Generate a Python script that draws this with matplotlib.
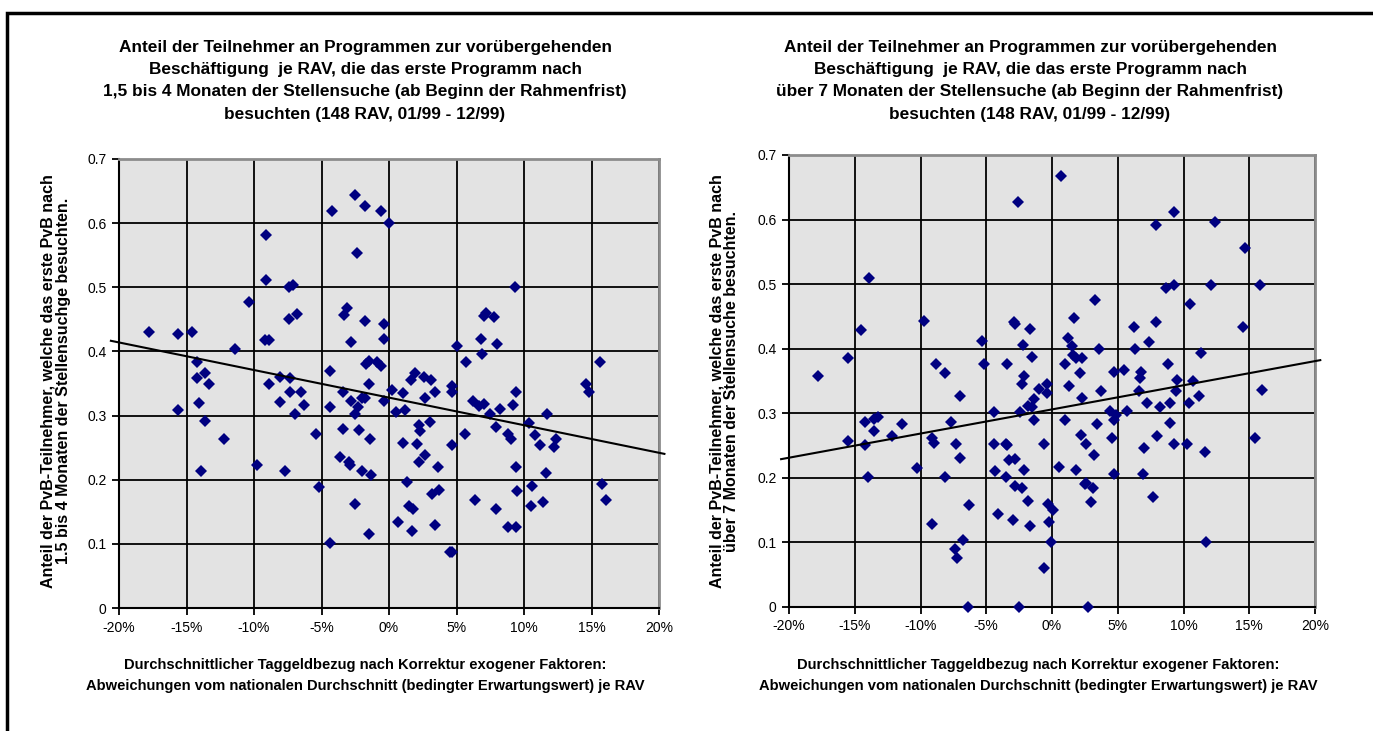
import numpy as np
import matplotlib
matplotlib.use("Agg")
import matplotlib.pyplot as plt
from matplotlib.ticker import PercentFormatter, FixedLocator
from matplotlib.patches import Rectangle

plt.rcParams['font.family'] = ['Liberation Sans', 'DejaVu Sans']
plt.rcParams['axes.unicode_minus'] = False

# --- data (x in percent, y share) ---
left_x = [-17.8, -15.6, -14.6, -14.2, -13.6, -14.2, -13.3, -11.4, -10.4, -9.1,
          -9.1, -7.4, -7.1, -7.4, -6.8, -9.2, -8.9, -8.9, -8.1, -7.3,
          -6.5, -4.2, -2.5, -1.8, -0.6, -2.4, -3.1, -3.3, -1.8, -0.4,
          -2.8, -0.4, -4.4, -1.5, -1.7, -0.9, -0.6, -1.5, 0.0, 9.3,
          7.2, 7.0, 7.8, 5.0, 6.8, 8.0, 6.9, 5.7, 15.6, 1.9,
          1.6, 2.6, 3.1, 4.7, 14.6, -15.6, -14.1, -13.6, -12.2, -13.9,
          -9.8, -7.7, -8.1, -7.3, -6.3, -7.0, -5.4, -5.2, -4.4, -3.4,
          -2.8, -2.3, -2.0, -1.8, -2.5, -3.4, -2.2, -1.4, -3.6, -3.0,
          -2.9, -2.0, -1.3, -2.5, -1.5, -4.4, -0.4, 0.2, 1.0, 4.7,
          3.4, 2.7, 0.5, 1.2, 2.2, 2.3, 3.0, 1.0, 2.1, 2.7,
          2.2, 3.6, 4.7, 5.6, 6.2, 6.7, 7.0, 7.5, 8.2, 9.2,
          9.4, 7.9, 8.8, 9.0, 9.4, 10.4, 10.8, 11.2, 11.7, 12.4,
          12.2, 11.6, 14.8, 1.3, 3.2, 3.7, 1.5, 1.8, 0.7, 1.7,
          3.4, 4.5, 4.7, 6.4, 7.9, 8.8, 9.4, 9.5, 10.6, 10.5,
          11.4, 15.8, 16.1]
left_y = [0.430, 0.427, 0.430, 0.383, 0.366, 0.358, 0.349, 0.404, 0.477, 0.582,
          0.512, 0.501, 0.504, 0.451, 0.458, 0.418, 0.418, 0.350, 0.360, 0.359,
          0.337, 0.619, 0.644, 0.627, 0.619, 0.554, 0.467, 0.457, 0.448, 0.442,
          0.414, 0.420, 0.369, 0.385, 0.380, 0.383, 0.377, 0.350, 0.601, 0.501,
          0.460, 0.456, 0.453, 0.408, 0.420, 0.411, 0.396, 0.383, 0.383, 0.366,
          0.355, 0.360, 0.355, 0.346, 0.349, 0.308, 0.320, 0.291, 0.264, 0.214,
          0.223, 0.214, 0.321, 0.336, 0.317, 0.302, 0.272, 0.188, 0.314, 0.336,
          0.323, 0.314, 0.328, 0.328, 0.302, 0.279, 0.277, 0.264, 0.236, 0.227,
          0.223, 0.214, 0.207, 0.162, 0.115, 0.101, 0.323, 0.340, 0.335, 0.336,
          0.336, 0.328, 0.305, 0.308, 0.285, 0.276, 0.290, 0.258, 0.255, 0.239,
          0.227, 0.220, 0.254, 0.271, 0.323, 0.315, 0.318, 0.303, 0.311, 0.317,
          0.336, 0.282, 0.271, 0.264, 0.220, 0.288, 0.269, 0.254, 0.302, 0.263,
          0.251, 0.211, 0.336, 0.196, 0.177, 0.184, 0.159, 0.155, 0.134, 0.120,
          0.130, 0.088, 0.088, 0.168, 0.155, 0.126, 0.126, 0.183, 0.190, 0.159,
          0.165, 0.194, 0.168]

right_x = [-2.6, -13.9, -14.5, -9.7, -5.3, -2.9, -2.8, -1.7, -2.2, -1.5,
           -15.5, -17.8, -8.8, -8.1, -5.2, -3.4, -2.1, -2.3, -1.0, -0.4,
           0.7, 9.3, 7.9, 12.4, 14.7, 8.7, 9.3, 12.1, 15.8, 10.5,
           3.3, 1.7, 14.5, 6.2, 7.9, 1.2, 1.5, 1.6, 1.8, 2.3,
           1.0, 3.6, 6.3, 7.4, 11.3, 2.1, 4.7, 5.5, 6.8, 6.7,
           8.8, 9.5, 10.7, 16.0, 1.3, -7.0, -0.4, -1.4, -1.8, -1.5,
           -4.4, -2.4, -14.2, -13.5, -13.2, -11.4, -13.5, -12.2, -15.5, -14.2,
           -14.0, -7.7, -1.4, -9.1, -9.0, -7.3, -7.0, -10.3, -8.1, -4.4,
           -3.5, -3.4, -3.3, -2.8, -4.3, -3.5, -2.1, -0.6, -2.8, -2.3,
           -1.8, -0.3, 0.1, -0.2, -6.3, -4.1, -3.0, -1.7, -9.1, -6.8,
           -7.4, -7.2, -0.1, -0.6, -6.4, -2.5, 3.7, 2.3, 6.6, 9.4,
           7.2, 8.2, 9.0, 10.4, 11.2, 4.4, 4.9, 4.7, 5.7, 1.0,
           3.4, 9.0, 2.2, 2.6, 4.6, 8.0, 9.3, 10.3, 7.0, 3.2,
           11.6, 15.4, 0.5, 1.8, 4.7, 6.9, 2.5, 2.6, 3.1, 3.0,
           7.7, 11.7, 2.7]
right_y = [0.627, 0.509, 0.429, 0.443, 0.412, 0.442, 0.438, 0.431, 0.406, 0.387,
           0.385, 0.357, 0.376, 0.363, 0.376, 0.376, 0.357, 0.345, 0.337, 0.345,
           0.667, 0.611, 0.592, 0.597, 0.556, 0.494, 0.499, 0.499, 0.499, 0.469,
           0.476, 0.448, 0.434, 0.434, 0.441, 0.416, 0.404, 0.391, 0.385, 0.385,
           0.376, 0.400, 0.400, 0.411, 0.394, 0.363, 0.364, 0.367, 0.364, 0.355,
           0.376, 0.352, 0.350, 0.336, 0.342, 0.326, 0.331, 0.322, 0.311, 0.310,
           0.302, 0.302, 0.286, 0.291, 0.294, 0.284, 0.273, 0.265, 0.257, 0.251,
           0.201, 0.286, 0.289, 0.261, 0.254, 0.252, 0.230, 0.215, 0.202, 0.252,
           0.253, 0.251, 0.228, 0.229, 0.211, 0.201, 0.212, 0.252, 0.187, 0.184,
           0.164, 0.160, 0.150, 0.131, 0.158, 0.144, 0.134, 0.125, 0.128, 0.103,
           0.090, 0.076, 0.100, 0.060, 0.0, 0.0, 0.335, 0.323, 0.335, 0.335,
           0.316, 0.310, 0.316, 0.316, 0.326, 0.304, 0.298, 0.290, 0.304, 0.290,
           0.283, 0.285, 0.266, 0.252, 0.261, 0.265, 0.252, 0.253, 0.246, 0.236,
           0.240, 0.262, 0.217, 0.212, 0.206, 0.206, 0.190, 0.192, 0.184, 0.162,
           0.171, 0.100, 0.0]

# linear trend lines: (slope per %, intercept)
left_trend = (-0.0043, 0.328)
right_trend = (0.00374, 0.306)

x_ticks = [-20, -15, -10, -5, 0, 5, 10, 15, 20]
y_ticks = [0, 0.1, 0.2, 0.3, 0.4, 0.5, 0.6, 0.7]
y_ticklabels = ['0', '0.1', '0.2', '0.3', '0.4', '0.5', '0.6', '0.7']

left_title = ("Anteil der Teilnehmer an Programmen zur vorübergehenden\n"
              "Beschäftigung  je RAV, die das erste Programm nach\n"
              "1,5 bis 4 Monaten der Stellensuche (ab Beginn der Rahmenfrist)\n"
              "besuchten (148 RAV, 01/99 - 12/99)")
right_title = ("Anteil der Teilnehmer an Programmen zur vorübergehenden\n"
               "Beschäftigung  je RAV, die das erste Programm nach\n"
               "über 7 Monaten der Stellensuche (ab Beginn der Rahmenfrist)\n"
               "besuchten (148 RAV, 01/99 - 12/99)")
left_ylabel = ("Anteil der PvB-Teilnehmer, welche das erste PvB nach\n"
               "1.5 bis 4 Monaten der Stellensuchge besuchten.")
right_ylabel = ("Anteil der PvB-Teilnehmer, welche das erste PvB nach\n"
                "über 7 Monaten der Stellensuche besuchten.")
xlabel = ("Durchschnittlicher Taggeldbezug nach Korrektur exogener Faktoren:\n"
          "Abweichungen vom nationalen Durchschnitt (bedingter Erwartungswert) je RAV")

W, H = 1373, 731
fig = plt.figure(figsize=(W / 100, H / 100), dpi=100)
fig.patch.set_facecolor('white')


def px(x0, y0, x1, y1):
    # pixel box -> figure fraction rect
    return [x0 / W, 1 - y1 / H, (x1 - x0) / W, (y1 - y0) / H]


def panel(rect, xs, ys, trend, title, ylabel, title_xy, ylab_xy, xlab_xy):
    ax = fig.add_axes(rect)
    ax.set_facecolor('#e3e3e3')
    ax.set_xlim(-20, 20)
    ax.set_ylim(0, 0.7)
    ax.xaxis.set_major_locator(FixedLocator(x_ticks))
    ax.xaxis.set_major_formatter(PercentFormatter(xmax=100, decimals=0))
    ax.set_yticks(y_ticks)
    ax.set_yticklabels(y_ticklabels)
    ax.grid(True, color='black', linewidth=1.3)
    ax.set_axisbelow(True)
    for s in ['top', 'right']:
        ax.spines[s].set_color('#8c8c8c')
        ax.spines[s].set_linewidth(2)
    for s in ['left', 'bottom']:
        ax.spines[s].set_color('black')
        ax.spines[s].set_linewidth(1.5)
    ax.tick_params(direction='out', length=5, width=1.3, labelsize=10, pad=4)

    ax.plot(xs, ys, 'D', color='#000080', markersize=5.8, markeredgewidth=0,
            linestyle='none', clip_on=False, zorder=3)
    tx = np.array([-20.6, 20.4])
    ax.plot(tx, trend[0] * tx + trend[1], color='black', linewidth=1.5,
            clip_on=False, zorder=4)

    fig.text(title_xy[0] / W, 1 - title_xy[1] / H, title, ha='center', va='top',
             fontsize=12.4, fontweight='bold', linespacing=1.6)
    fig.text(ylab_xy[0] / W, 1 - ylab_xy[1] / H, ylabel, ha='center', va='center',
             rotation=90, fontsize=11.5, fontweight='bold', linespacing=1.0)
    fig.text(xlab_xy[0] / W, 1 - xlab_xy[1] / H, xlabel, ha='center', va='top',
             fontsize=10.6, fontweight='bold', linespacing=1.65)
    return ax


panel(px(119, 159, 659, 608), left_x, left_y, left_trend, left_title, left_ylabel,
      (365, 40), (56, 381), (365, 658))
panel(px(789, 155, 1315, 607), right_x, right_y, right_trend, right_title, right_ylabel,
      (1030, 40), (724, 381), (1038, 658))

# outer frame of the page
fig.add_artist(Rectangle((7 / W, -0.1), 1.2, (1 - 13 / H) + 0.1,
                         transform=fig.transFigure, fill=False,
                         edgecolor='black', linewidth=2.5))

fig.savefig('out.png', dpi=100)
